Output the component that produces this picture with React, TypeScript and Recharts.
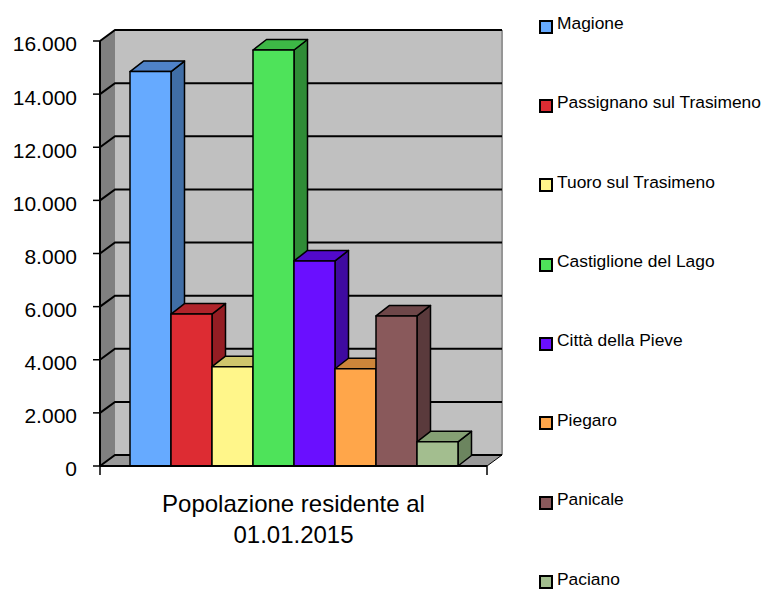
import {
  BarChart,
  Bar,
  XAxis,
  YAxis,
  Legend,
  ReferenceArea,
  ReferenceLine,
} from "recharts";

const comuni = [
  "Magione",
  "Passignano sul Trasimeno",
  "Tuoro sul Trasimeno",
  "Castiglione del Lago",
  "Città della Pieve",
  "Piegaro",
  "Panicale",
  "Paciano",
];
const popolazione = [14850, 5720, 3740, 15660, 7720, 3660, 5650, 910];
const categoria = "Popolazione residente al 01.01.2015";
const yTicks = [0, 2000, 4000, 6000, 8000, 10000, 12000, 14000, 16000];

// front / top / side colours for the fake 3D look
const fronts = ["#66aaff", "#dd2c33", "#fff68a", "#4ee35a", "#6a0fff", "#ffa64a", "#89595b", "#a3be8f"];
const tops = ["#4f82c8", "#b0242b", "#cfc66c", "#3db846", "#5209cc", "#cc853a", "#6e4749", "#85a074"];
const sides = ["#406ea6", "#941d23", "#b5ae5e", "#2f8c36", "#3f0aa0", "#b07232", "#5a3a3c", "#6c855f"];

const data = [
  comuni.reduce(
    (row, _c, i) => ({ ...row, ["s" + i]: popolazione[i] }),
    { name: categoria } as Record<string, string | number>
  ),
];

const WX = 15;
const WY = 11;
const BX = 13.5;
const BY = 10.5;

const fmt = (v: number) => String(v).replace(/\B(?=(\d{3})+(?!\d))/g, ".");

function Wall(p: any) {
  const { x, y, width: w, height: h } = p;
  return (
    <g>
      <polygon
        points={`${x},${y + h} ${x + w},${y + h} ${x + w + WX},${y + h - WY} ${x + WX},${y + h - WY}`}
        fill="#999999"
      />
      <polygon
        points={`${x},${y + h} ${x},${y} ${x + WX},${y - WY} ${x + WX},${y + h - WY}`}
        fill="#808080"
      />
      <rect x={x + WX} y={y - WY} width={w} height={h} fill="#c0c0c0" />
      <line x1={x + w + WX} y1={y - WY} x2={x + w + WX} y2={y + h - WY} stroke="#969696" strokeWidth={2} />
      <line x1={x + w} y1={y + h} x2={x + w + WX} y2={y + h - WY} stroke="#000" strokeWidth={1} />
      <line x1={x} y1={y + h} x2={x} y2={y + h + 9} stroke="#000" strokeWidth={1.5} />
      <line x1={x + w} y1={y + h} x2={x + w} y2={y + h + 9} stroke="#000" strokeWidth={1.5} />
    </g>
  );
}

function GridLine(p: any) {
  const { x1, y1, x2 } = p;
  return (
    <path
      d={`M${x1},${y1} L${x1 + WX},${y1 - WY} L${x2 + WX},${y1 - WY}`}
      fill="none"
      stroke="#000"
      strokeWidth={2}
    />
  );
}

function Bar3D(p: any, i: number) {
  const { x, y, width: w, height: h } = p;
  const s = { stroke: "#000", strokeWidth: 1.5, strokeLinejoin: "round" as const };
  return (
    <g>
      <polygon
        points={`${x + w},${y} ${x + w + BX},${y - BY} ${x + w + BX},${y + h - BY} ${x + w},${y + h}`}
        fill={sides[i]}
        {...s}
      />
      <polygon
        points={`${x},${y} ${x + BX},${y - BY} ${x + w + BX},${y - BY} ${x + w},${y}`}
        fill={tops[i]}
        {...s}
      />
      <rect x={x} y={y} width={w} height={h} fill={fronts[i]} {...s} />
    </g>
  );
}

function YTick(p: any) {
  const { x, y, payload } = p;
  return (
    <text x={x} y={y + 3} dy="0.355em" textAnchor="end" fontSize={21} fill="#000">
      {fmt(payload.value)}
    </text>
  );
}

function XTick(p: any) {
  const { x, y } = p;
  return (
    <text x={x} y={y} textAnchor="middle" fontSize={24} fill="#000">
      <tspan x={x} dy={46}>Popolazione residente al</tspan>
      <tspan x={x} dy={31}>01.01.2015</tspan>
    </text>
  );
}

function LegendBox(p: any) {
  const items = [...(p.payload || [])].sort(
    (a: any, b: any) => comuni.indexOf(a.value) - comuni.indexOf(b.value)
  );
  return (
    <div style={{ position: "relative", width: 227, height: 589 }}>
      {items.map((it: any, i: number) => {
        const cy = 23 + i * 79.36;
        return (
          <div key={i}>
            <div
              style={{
                position: "absolute",
                left: 0,
                top: cy - 3.5,
                width: 10,
                height: 10,
                border: "2px solid #000",
                background: it.color,
              }}
            />
            <div
              style={{
                position: "absolute",
                left: 18,
                top: cy - 10,
                lineHeight: "20px",
                fontSize: 17.4,
                color: "#000",
                whiteSpace: "nowrap",
              }}
            >
              {it.value}
            </div>
          </div>
        );
      })}
    </div>
  );
}

export default function App() {
  return (
    <div
      style={{
        position: "absolute",
        left: 0,
        top: 0,
        fontFamily: "'Liberation Sans', Arial, sans-serif",
        background: "#fff",
      }}
    >
      <BarChart
        width={766}
        height={589}
        data={data}
        margin={{ top: 41, right: 279, left: 0, bottom: 23 }}
        barCategoryGap={30}
        barGap={0}
      >
        <ReferenceArea y1={0} y2={16000} shape={Wall} ifOverflow="visible" zIndex={-60} />
        {yTicks.map((t) => (
          <ReferenceLine key={t} y={t} shape={GridLine} ifOverflow="visible" zIndex={-50} />
        ))}
        <XAxis
          dataKey="name"
          height={100}
          tickLine={false}
          tickSize={0}
          tickMargin={0}
          axisLine={{ stroke: "#000", strokeWidth: 2 }}
          tick={XTick}
          interval={0}
        />
        <YAxis
          width={100}
          domain={[0, 16000]}
          ticks={yTicks}
          tickSize={7}
          tickMargin={16}
          tickLine={{ stroke: "#000", strokeWidth: 1.5 }}
          axisLine={{ stroke: "#000", strokeWidth: 2 }}
          tick={YTick}
          interval={0}
        />
        <Legend
          layout="vertical"
          align="center"
          verticalAlign="middle"
          content={LegendBox}
          wrapperStyle={{ left: 539, top: 0, width: 227, height: 589 }}
        />
        {comuni.map((c, i) => (
          <Bar
            key={c}
            dataKey={"s" + i}
            name={c}
            fill={fronts[i]}
            isAnimationActive={false}
            shape={(p: any) => Bar3D(p, i)}
          />
        ))}
      </BarChart>
    </div>
  );
}
